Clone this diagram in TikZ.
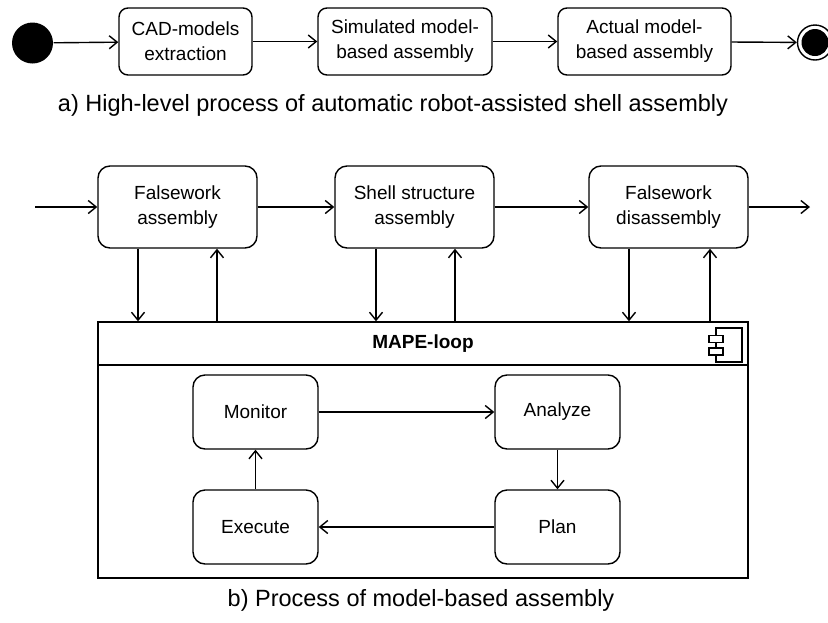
\documentclass[tikz,border=0pt]{standalone}
\usepackage{fontspec}
\setmainfont{Liberation Sans}
\usetikzlibrary{arrows.meta}
\begin{document}
\begin{tikzpicture}[x=1pt,y=-1pt,
  font=\fontsize{19}{25}\selectfont,
  line width=1.4pt,
  topbox/.style={draw, rounded corners=9pt, align=center, inner sep=0pt},
  botbox/.style={draw, rounded corners=12pt, align=center, inner sep=0pt, minimum width=159pt, minimum height=82pt},
  inbox/.style={draw, rounded corners=12pt, align=center, inner sep=0pt, minimum width=125pt, minimum height=74pt},
  flow/.style={-{Straight Barb[length=8pt,width=13pt,line width=1.4pt]}},
  lbl/.style={inner sep=0pt, align=center},
  captext/.style={inner sep=0pt, font=\fontsize{23.5}{28}\selectfont}
]
\useasboundingbox (0,0) rectangle (828,622);
% top row
\node[circle, fill=black, minimum size=41pt, inner sep=0pt] (start) at (32.5,43) {};
\node[topbox, minimum width=133pt, minimum height=67pt] (cad) at (185.5,41.5) {CAD-models\\extraction};
\node[topbox, minimum width=174pt, minimum height=67pt] (sim) at (405,41.5) {Simulated model-\\based assembly};
\node[topbox, minimum width=173pt, minimum height=67pt] (act) at (644.5,41.5) {Actual model-\\based assembly};
\node[circle, draw, minimum size=35pt, inner sep=0pt] (endo) at (815,42.5) {};
\node[circle, fill=black, minimum size=27pt, inner sep=0pt] (endi) at (815,42.5) {};
\draw[flow] (start) -- (cad);
\draw[flow] (cad) -- (sim);
\draw[flow] (sim) -- (act);
\draw[flow] (act) -- (endo);
\node[captext] (capa) at (393,105) {a) High-level process of automatic robot-assisted shell assembly};
% bottom
\coordinate (in) at (35,207);
\coordinate (out) at (810,207);
\node[botbox] (fa) at (177.5,207) {Falsework\\assembly};
\node[botbox] (sa) at (414.5,207) {Shell structure\\assembly};
\node[botbox] (fd) at (668.5,207) {Falsework\\disassembly};
\draw[flow] (in) -- (fa);
\draw[flow] (fa) -- (sa);
\draw[flow] (sa) -- (fd);
\draw[flow] (fd) -- (out);
% MAPE box
\node[draw, minimum width=650pt, minimum height=256pt, inner sep=0pt] (mape) at (423,450) {};
\draw[line width=2pt] (98,364.5) coordinate (sepl) -- (748,364.5) coordinate (sepr);
\node[lbl, font=\fontsize{19}{25}\selectfont\bfseries] (mapet) at (423,344) {MAPE-loop};
% component icon
\node[draw, minimum width=26pt, minimum height=34pt, inner sep=0pt] (ic) at (729,345) {};
\node[draw, fill=white, minimum width=14pt, minimum height=7pt, inner sep=0pt] (ic1) at (716,339) {};
\node[draw, fill=white, minimum width=14pt, minimum height=7pt, inner sep=0pt] (ic2) at (716,351.5) {};
% vertical connectors
\draw[flow] (fa.south -| 138,0) -- (mape.north -| 138,0);
\draw[flow] (mape.north -| 217,0) -- (fa.south -| 217,0);
\draw[flow] (sa.south -| 376,0) -- (mape.north -| 376,0);
\draw[flow] (mape.north -| 455,0) -- (sa.south -| 455,0);
\draw[flow] (fd.south -| 629,0) -- (mape.north -| 629,0);
\draw[flow] (mape.north -| 710,0) -- (fd.south -| 710,0);
% inner loop
\node[inbox] (mon) at (255.5,412) {Monitor};
\node[inbox] (ana) at (557.5,412) {Analyze};
\node[inbox] (pla) at (557.5,527) {Plan};
\node[inbox] (exe) at (255.5,527) {Execute};
\draw[flow] (mon) -- (ana);
\draw[flow] (ana) -- (pla);
\draw[flow] (pla) -- (exe);
\draw[flow] (exe) -- (mon);
\node[captext] (capb) at (421,600) {b) Process of model-based assembly};
\end{tikzpicture}
\end{document}
